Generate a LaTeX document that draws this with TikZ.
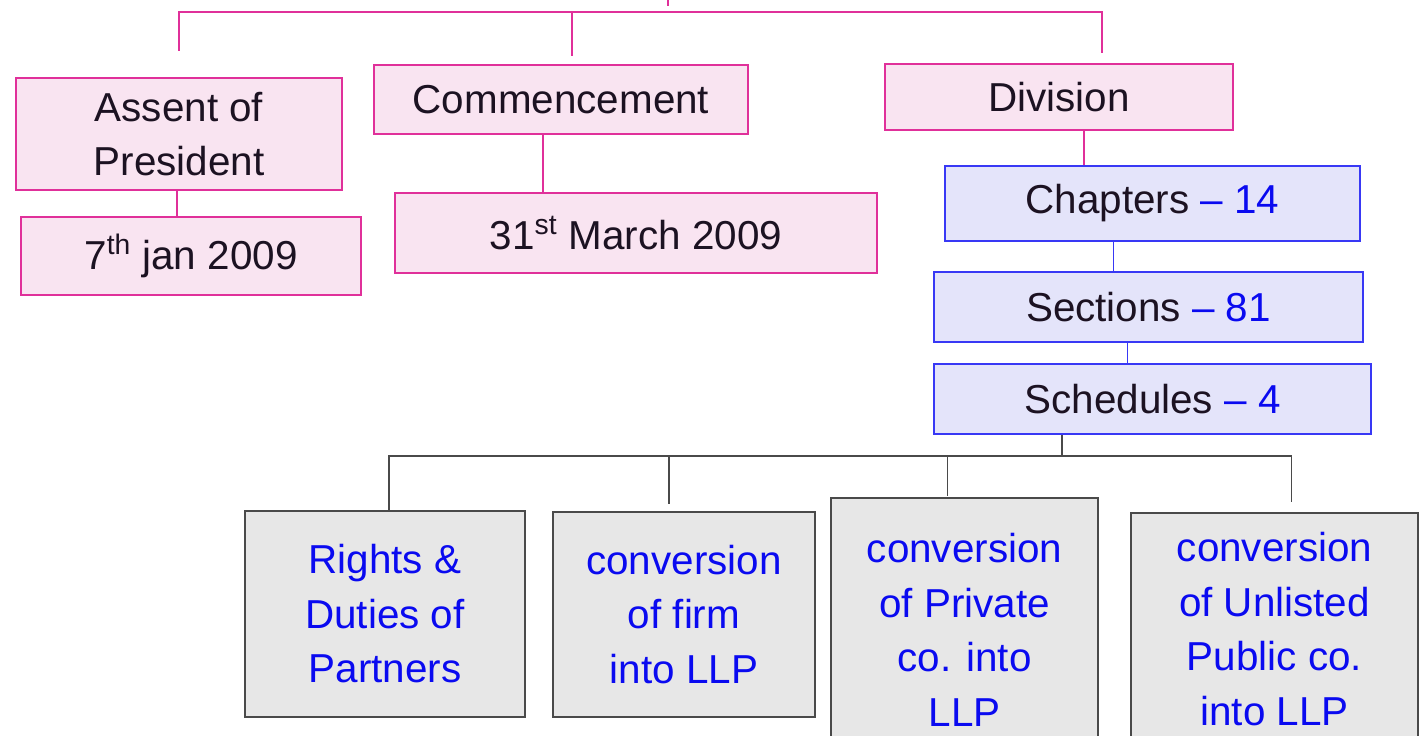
\documentclass[tikz,border=0pt]{standalone}
\usepackage{fontspec}
\setmainfont{Liberation Sans}
\definecolor{pinkline}{HTML}{E0309A}
\definecolor{pinkfill}{HTML}{F9E4F1}
\definecolor{blueline}{HTML}{3838F5}
\definecolor{bluefill}{HTML}{E4E4FA}
\definecolor{greyline}{HTML}{4A4A4A}
\definecolor{greyfill}{HTML}{E7E7E7}
\definecolor{inkblack}{HTML}{1C1222}
\definecolor{inkblue}{HTML}{0A0AF0}
\newcommand{\inkb}[1]{\textcolor{inkblue}{#1}}

\begin{document}
\begin{tikzpicture}[
    x=0.02cm, y=-0.02cm,
    font=\fontsize{23}{31}\selectfont,
    box/.style={rectangle, inner sep=0pt, align=center, line width=0.9pt},
    pinkbox/.style={box, draw=pinkline, fill=pinkfill, text=inkblack},
    bluebox/.style={box, draw=blueline, fill=bluefill, text=inkblack},
    greybox/.style={box, draw=greyline, fill=greyfill, text=inkblue},
    pinklink/.style={draw=pinkline, line width=0.6pt},
    bluelink/.style={draw=blueline, line width=0.6pt},
    greylink/.style={draw=greyline, line width=0.6pt}
]
\useasboundingbox (0,0) rectangle (1424,736);
\clip (0,0) rectangle (1424,736);

\node[pinkbox, minimum width=6.52cm, minimum height=2.24cm] (assent) at (179,134) {Assent of\\President};
\node[pinkbox, minimum width=6.8cm, minimum height=1.56cm] (jan) at (191,256) {7\textsuperscript{th} jan 2009};
\node[pinkbox, minimum width=7.48cm, minimum height=1.38cm] (comm) at (561,99.5) {Commencement};
\node[pinkbox, minimum width=9.64cm, minimum height=1.6cm] (march) at (636,233) {31\textsuperscript{st} March 2009};
\node[pinkbox, minimum width=6.96cm, minimum height=1.32cm] (division) at (1059,97) {Division};

\node[bluebox, minimum width=8.3cm, minimum height=1.5cm] (chapters) at (1152.5,203.5) {Chapters \inkb{-- 14}};
\node[bluebox, minimum width=8.58cm, minimum height=1.4cm] (sections) at (1148.5,307) {Sections \inkb{-- 81}};
\node[bluebox, minimum width=8.74cm, minimum height=1.4cm] (sched) at (1152.5,399) {Schedules \inkb{-- 4}};

\node[greybox, minimum width=5.6cm, minimum height=4.12cm] (partners) at (385,614) {Rights \&\\Duties of\\Partners};
\node[greybox, minimum width=5.24cm, minimum height=4.1cm] (firm) at (684,614.5) {conversion\\of firm\\into LLP};
\node[greybox, minimum width=5.34cm, minimum height=5.28cm] (private) at (964.5,630) {conversion\\of Private\\co. into\\LLP};
\node[greybox, minimum width=5.74cm, minimum height=4.64cm] (unlisted) at (1274.5,629) {conversion\\of Unlisted\\Public co.\\into LLP};

\coordinate (root) at (668,-10);
\coordinate (rootend) at (668,6);
\coordinate (hub) at (668,12);
\draw[pinklink] (root) -- (rootend);
\foreach \n/\dx/\gap in {assent/0/26, comm/11/8, division/43/10}
  \draw[pinklink] (hub) -| ([xshift=\dx*0.02cm, yshift=\gap*0.02cm]\n.north);

\foreach \a/\b/\dx in {assent/jan/-2, comm/march/-18, division/chapters/25}
  {\path ([xshift=\dx*0.02cm]\a.south) coordinate (t);
   \draw[pinklink] (t) -- (t |- \b.north);}
\foreach \a/\b/\dx in {chapters/sections/-39, sections/sched/-21}
  {\path ([xshift=\dx*0.02cm]\a.south) coordinate (t);
   \draw[bluelink] (t) -- (t |- \b.north);}

\coordinate (bus) at (1062,456);
\draw[greylink] (bus |- sched.south) -- (bus);
\foreach \n/\dx/\gap in {partners/4/0, firm/-15/7, private/-17/1, unlisted/17/10}
  \draw[greylink] (bus) -| ([xshift=\dx*0.02cm, yshift=\gap*0.02cm]\n.north);
\end{tikzpicture}
\end{document}
